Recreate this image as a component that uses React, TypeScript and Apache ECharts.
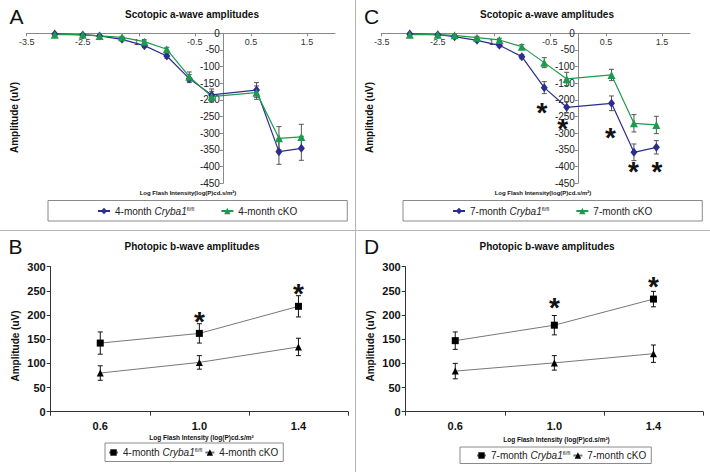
import React, { useEffect, useRef } from 'react';
import * as echarts from 'echarts';

const FONT = '"Liberation Sans", Arial, Helvetica, sans-serif';

// ---- Scotopic a-wave (panels A, C) ----
const scotX = [-3.0, -2.5, -2.2, -1.8, -1.4, -1.0, -0.6, -0.2, 0.6, 1.0, 1.4];
const aCtrl4 = [-2, -5, -8, -18, -37, -68, -136, -185, -170, -355, -345];
const aCtrl4Err = [2, 3, 3, 4, 6, 7, 12, 18, 22, 38, 36];
const aCko4 = [-4, -4, -8, -12, -25, -48, -130, -190, -178, -315, -311];
const aCko4Err = [2, 3, 3, 3, 5, 6, 14, 16, 20, 35, 38];
const aCtrl7 = [-2, -4, -10, -21, -36, -70, -163, -222, -210, -357, -342];
const aCtrl7Err = [2, 3, 3, 4, 5, 6, 18, 17, 22, 25, 20];
const aCko7 = [-4, -4, -6, -13, -20, -40, -88, -137, -125, -270, -275];
const aCko7Err = [2, 2, 3, 4, 5, 6, 15, 20, 17, 26, 26];
const scotTicks = [-3.5, -2.5, -1.5, -0.5, 0.5, 1.5];
const starCX = [-0.64, -0.27, 0.58, 0.99, 1.41];
const starCY = [-220, -268, -293, -397, -397];

// ---- Photopic b-wave (panels B, D) ----
const photCats = ['0.6', '1.0', '1.4'];
const bCtrl4 = [142, 162, 218];
const bCtrl4Err = [23, 20, 22];
const bCko4 = [80, 102, 134];
const bCko4Err = [15, 14, 18];
const bCtrl7 = [147, 179, 233];
const bCtrl7Err = [18, 20, 16];
const bCko7 = [84, 101, 120];
const bCko7Err = [16, 15, 18];
const starBCats = ['1.0', '1.4'];
const starBY = [200, 258];
const starDCats = ['1.0', '1.4'];
const starDY = [229, 271];

const BLUE = '#2B2E8C';
const GREEN = '#1E9A4E';

const legendText: Record<string, string> = {
  'A 4-month Cryba1': '{n|4-month }{i|Cryba1}{s|fl/fl}',
  'A 4-month cKO': '{n|4-month cKO}',
  'C 7-month Cryba1': '{n|7-month }{i|Cryba1}{s|fl/fl}',
  'C 7-month cKO': '{n|7-month cKO}',
  'B 4-month Cryba1': '{n|4-month }{i|Cryba1}{s|fl/fl}',
  'B 4-month cKO': '{n|4-month cKO}',
  'D 7-month Cryba1': '{n|7-month }{i|Cryba1}{s|fl/fl}',
  'D 7-month cKO': '{n|7-month cKO}',
};

const rich = {
  n: { fontSize: 10, fontFamily: FONT, color: '#222' },
  i: { fontSize: 10, fontFamily: FONT, fontStyle: 'italic', color: '#222' },
  s: { fontSize: 6, fontFamily: FONT, color: '#222', verticalAlign: 'top', padding: [0, 0, 5, 0] },
};

function errRender(color: string) {
  return (params: any, api: any) => {
    const x = api.value(0);
    const a = api.coord([x, api.value(1)]);
    const b = api.coord([x, api.value(2)]);
    const w = 2.5;
    const st = { stroke: color, lineWidth: 1 };
    return {
      type: 'group',
      children: [
        { type: 'line', shape: { x1: a[0], y1: a[1], x2: b[0], y2: b[1] }, style: st },
        { type: 'line', shape: { x1: a[0] - w, y1: a[1], x2: a[0] + w, y2: a[1] }, style: st },
        { type: 'line', shape: { x1: b[0] - w, y1: b[1], x2: b[0] + w, y2: b[1] }, style: st },
      ],
    };
  };
}

function starRender(params: any, api: any) {
  const p = api.coord([api.value(0), api.value(1)]);
  const fs = 28;
  return {
    type: 'text',
    x: p[0],
    y: p[1] + fs * 0.22,
    style: { text: '*', fontSize: fs, fontWeight: 'bold', fontFamily: FONT, fill: '#111', align: 'center', verticalAlign: 'middle' },
  };
}

function errData(xs: (number | string)[], ys: number[], es: number[]) {
  return xs.map((x, i) => [x, ys[i] - es[i], ys[i] + es[i]]);
}

function pairs(xs: (number | string)[], ys: number[]) {
  return xs.map((x, i) => [x, ys[i]]);
}

// grid geometry for scotopic panels: x range -3.5..2 over 308.3px => y-axis (x=0) sits 196.3px from the left edge
const SCOT_W = 308.3;
const SCOT_YAXIS_OFFSET = -(SCOT_W * 3.5) / 5.5;

function scotAxes(gridIndex: number) {
  const x = {
    type: 'value', gridIndex, min: -3.5, max: 2, position: 'top',
    axisLine: { onZero: false, lineStyle: { color: '#888', width: 1 } },
    axisTick: { show: true, inside: true, customValues: scotTicks, length: 3, lineStyle: { color: '#888' } },
    axisLabel: { inside: true, customValues: scotTicks, fontSize: 9, color: '#333', margin: 4, fontFamily: FONT },
    splitLine: { show: false },
  };
  const y = {
    type: 'value', gridIndex, min: -450, max: 0, interval: 50, position: 'left', offset: SCOT_YAXIS_OFFSET,
    axisLine: { show: true, onZero: false, lineStyle: { color: '#888', width: 1 } },
    axisTick: { show: true, length: 3, lineStyle: { color: '#888' } },
    axisLabel: { fontSize: 10, color: '#222', margin: 3, fontFamily: FONT },
    splitLine: { show: false },
  };
  return { x, y };
}

function photAxes(gridIndex: number) {
  const x = {
    type: 'category', gridIndex, data: photCats, boundaryGap: true,
    axisLine: { lineStyle: { color: '#333', width: 1 } },
    axisTick: { show: true, length: 4, lineStyle: { color: '#333' } },
    axisLabel: { fontSize: 11, fontWeight: 'bold', color: '#111', margin: 9, fontFamily: FONT },
    splitLine: { show: false },
  };
  const y = {
    type: 'value', gridIndex, min: 0, max: 300, interval: 50,
    axisLine: { show: true, lineStyle: { color: '#333', width: 1 } },
    axisTick: { show: true, length: 4, lineStyle: { color: '#333' } },
    axisLabel: { fontSize: 11, fontWeight: 'bold', color: '#111', margin: 5, fontFamily: FONT },
    splitLine: { show: false },
  };
  return { x, y };
}

function scotLine(name: string, idx: number, ys: number[], color: string, symbol: string, size: any) {
  return {
    type: 'line', name, xAxisIndex: idx, yAxisIndex: idx, data: pairs(scotX, ys),
    symbol, symbolSize: size, color,
    itemStyle: { color }, lineStyle: { color, width: 1.2 }, z: 3,
  };
}

function photLine(name: string, idx: number, ys: number[], symbol: string, size: any) {
  return {
    type: 'line', name, xAxisIndex: idx, yAxisIndex: idx, data: pairs(photCats, ys),
    symbol, symbolSize: size, color: '#000',
    itemStyle: { color: '#000' }, lineStyle: { color: '#777', width: 1 }, z: 3,
  };
}

function errSeries(idx: number, xs: any[], ys: number[], es: number[], color: string) {
  return {
    type: 'custom', xAxisIndex: idx, yAxisIndex: idx, renderItem: errRender(color),
    data: errData(xs, ys, es), encode: { x: 0, y: [1, 2] }, z: 2, clip: false, silent: true,
  };
}

function starSeries(idx: number, xs: any[], ys: number[]) {
  return {
    type: 'custom', xAxisIndex: idx, yAxisIndex: idx, renderItem: starRender,
    data: pairs(xs, ys), encode: { x: 0, y: 1 }, z: 4, clip: false, silent: true,
  };
}

function legendCfg(names: string[], left: number, top: number, gap: number, iw: number, pad: number[]) {
  return {
    data: names, left, top, orient: 'horizontal', itemGap: gap, itemWidth: iw, itemHeight: 8,
    padding: pad, borderColor: '#8a8a8a', borderWidth: 1,
    formatter: (n: string) => legendText[n],
    textStyle: { fontSize: 10, fontFamily: FONT, color: '#222', rich },
  };
}

function txt(text: string, x: number, y: number, size: number, weight: string, rotate = 0) {
  return {
    type: 'text', x, y, rotation: rotate,
    style: { text, fontSize: size, fontWeight: weight, fontFamily: FONT, fill: '#111', align: 'center', verticalAlign: 'middle' },
  };
}

const A = scotAxes(0);
const C = scotAxes(1);
const B = photAxes(2);
const D = photAxes(3);

const option: any = {
  animation: false,
  backgroundColor: '#fff',
  grid: [
    { left: 26.7, top: 33.3, width: SCOT_W, height: 150 },
    { left: 381.7, top: 33.3, width: SCOT_W, height: 150 },
    { left: 50.7, top: 266.7, width: 297.3, height: 145 },
    { left: 405.7, top: 266.7, width: 297.3, height: 145 },
  ],
  xAxis: [A.x, C.x, B.x, D.x],
  yAxis: [A.y, C.y, B.y, D.y],
  legend: [
    legendCfg(['A 4-month Cryba1', 'A 4-month cKO'], 48, 200.5, 26, 12, [5, 50, 5, 49]),
    legendCfg(['C 7-month Cryba1', 'C 7-month cKO'], 403, 200.5, 26, 12, [5, 50, 5, 49]),
    legendCfg(['B 4-month Cryba1', 'B 4-month cKO'], 105, 443, 2, 9, [4, 5, 4, 3]),
    legendCfg(['D 7-month Cryba1', 'D 7-month cKO'], 460, 447, 2, 9, [3, 5, 3, 16]),
  ],
  graphic: [
    { type: 'line', shape: { x1: 355.5, y1: 0, x2: 355.5, y2: 472 }, style: { stroke: '#b4b4b4', lineWidth: 1 } },
    { type: 'line', shape: { x1: 0, y1: 230.5, x2: 710, y2: 230.5 }, style: { stroke: '#b4b4b4', lineWidth: 1 } },
    txt('A', 16.5, 16, 21, 'normal'),
    txt('C', 371.5, 16, 21, 'normal'),
    txt('B', 15.5, 246, 21, 'normal'),
    txt('D', 371.5, 246, 21, 'normal'),
    txt('Scotopic a-wave amplitudes', 192, 14.5, 10, 'bold'),
    txt('Scotopic a-wave amplitudes', 547, 14.5, 10, 'bold'),
    txt('Photopic b-wave amplitudes', 192, 246, 10, 'bold'),
    txt('Photopic b-wave amplitudes', 547, 246, 10, 'bold'),
    txt('Amplitude (uV)', 14, 117.5, 10, 'bold', Math.PI / 2),
    txt('Amplitude (uV)', 369, 117.5, 10, 'bold', Math.PI / 2),
    txt('Amplitude (uV)', 15, 346, 10, 'bold', Math.PI / 2),
    txt('Amplitude (uV)', 370, 346, 10, 'bold', Math.PI / 2),
    txt('Log Flash Intensity(log(P)cd.s/m²)', 188, 192.5, 6, 'bold'),
    txt('Log Flash Intensity(log(P)cd.s/m²)', 543, 192.5, 6, 'bold'),
    txt('Log Flash Intensity (log(P)cd.s/m²', 201.5, 437, 6.5, 'bold'),
    txt('Log Flash Intensity (log(P)cd.s/m²)', 556.5, 439, 6.5, 'bold'),
  ],
  series: [
    errSeries(0, scotX, aCtrl4, aCtrl4Err, '#555'),
    errSeries(0, scotX, aCko4, aCko4Err, '#555'),
    scotLine('A 4-month Cryba1', 0, aCtrl4, BLUE, 'diamond', [7, 9]),
    scotLine('A 4-month cKO', 0, aCko4, GREEN, 'triangle', 8),

    errSeries(1, scotX, aCtrl7, aCtrl7Err, '#555'),
    errSeries(1, scotX, aCko7, aCko7Err, '#555'),
    scotLine('C 7-month Cryba1', 1, aCtrl7, BLUE, 'diamond', [7, 9]),
    scotLine('C 7-month cKO', 1, aCko7, GREEN, 'triangle', 8),
    starSeries(1, starCX, starCY),

    errSeries(2, photCats, bCtrl4, bCtrl4Err, '#111'),
    errSeries(2, photCats, bCko4, bCko4Err, '#111'),
    photLine('B 4-month Cryba1', 2, bCtrl4, 'rect', 7),
    photLine('B 4-month cKO', 2, bCko4, 'triangle', 7),
    starSeries(2, starBCats, starBY),

    errSeries(3, photCats, bCtrl7, bCtrl7Err, '#111'),
    errSeries(3, photCats, bCko7, bCko7Err, '#111'),
    photLine('D 7-month Cryba1', 3, bCtrl7, 'rect', 7),
    photLine('D 7-month cKO', 3, bCko7, 'triangle', 7),
    starSeries(3, starDCats, starDY),
  ],
};

export default function App() {
  const ref = useRef<HTMLDivElement>(null);
  useEffect(() => {
    const chart = echarts.init(ref.current!, null, { renderer: 'svg' });
    chart.setOption(option);
    return () => chart.dispose();
  }, []);
  return (
    <div
      ref={ref}
      style={{ position: 'fixed', left: 0, top: 0, width: 710, height: 472, background: '#fff' }}
    />
  );
}
